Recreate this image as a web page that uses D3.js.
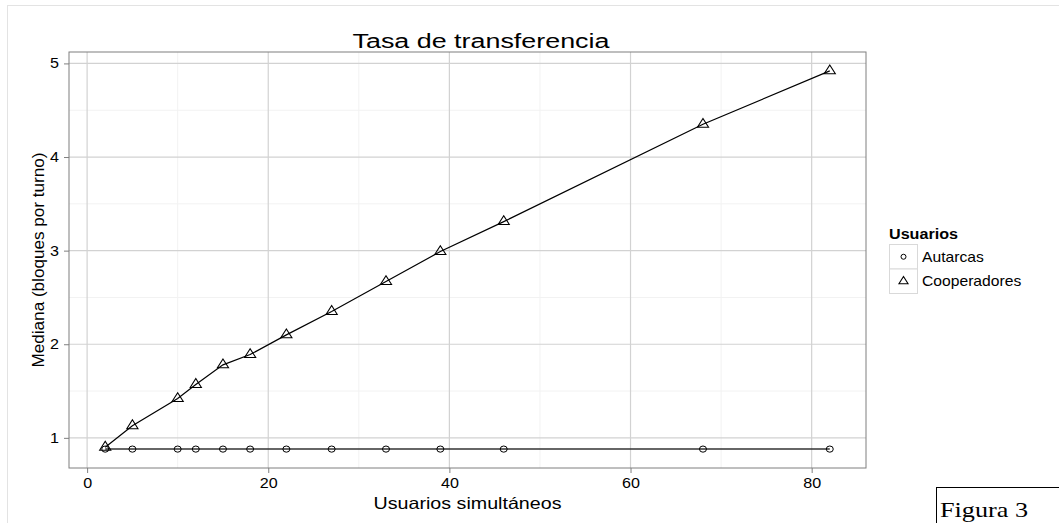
<!DOCTYPE html>
<html>
<head>
<meta charset="utf-8">
<script src="https://cdn.jsdelivr.net/npm/d3@7"></script>
<style>
  html, body { margin: 0; padding: 0; background: #fff; }
  svg { display: block; }
</style>
</head>
<body>
<svg id="chart" width="1059" height="523"></svg>
<script>
// ---- data ----
const users = [2, 5, 10, 12, 15, 18, 22, 27, 33, 39, 46, 68, 82];
const autarcas = [0.88, 0.88, 0.88, 0.88, 0.88, 0.88, 0.88, 0.88, 0.88, 0.88, 0.88, 0.88, 0.88];
const cooperadores = [0.90, 1.13, 1.42, 1.57, 1.78, 1.89, 2.10, 2.35, 2.67, 2.99, 3.31, 4.35, 4.92];
const xTicks = [0, 20, 40, 60, 80];
const xMinor = [10, 30, 50, 70];
const yTicks = [1, 2, 3, 4, 5];
const yMinor = [1.5, 2.5, 3.5, 4.5];
const seriesNames = ["Autarcas", "Cooperadores"];
const titleText = "Tasa de transferencia";
const xTitle = "Usuarios simultáneos";
const yTitle = "Mediana (bloques por turno)";
const legendTitle = "Usuarios";
const captionText = "Figura 3";

const svg = d3.select("#chart");
const font = "Arial, 'Liberation Sans', Helvetica, sans-serif";
const stretch = 1.15; // horizontal stretch of glyphs seen in the reference

function widen(sel, factor) {
  sel.each(function() {
    const w = this.getComputedTextLength();
    d3.select(this).attr("textLength", w * factor).attr("lengthAdjust", "spacingAndGlyphs");
  });
}

// outer plot border
svg.append("rect").attr("x", 7.5).attr("y", 5.5).attr("width", 1100).attr("height", 600)
  .attr("fill", "none").attr("stroke", "#e3e3e3");

const P = { left: 69, right: 866, top: 52, bottom: 468 };
const allY = autarcas.concat(cooperadores);
const xMin = d3.min(users), xMax = d3.max(users);
const yMin = d3.min(allY), yMax = d3.max(allY);
const xPad = (xMax - xMin) * 0.05, yPad = (yMax - yMin) * 0.05;
const x = d3.scaleLinear().domain([xMin - xPad, xMax + xPad]).range([P.left, P.right]);
const y = d3.scaleLinear().domain([yMin - yPad, yMax + yPad]).range([P.bottom, P.top]);

const g = svg.append("g");
// minor grid
g.selectAll(".xm").data(xMinor).enter().append("line")
  .attr("x1", d => x(d)).attr("x2", d => x(d)).attr("y1", P.top).attr("y2", P.bottom)
  .attr("stroke", "#f2f2f2").attr("stroke-width", 1);
g.selectAll(".ym").data(yMinor).enter().append("line")
  .attr("y1", d => y(d)).attr("y2", d => y(d)).attr("x1", P.left).attr("x2", P.right)
  .attr("stroke", "#f2f2f2").attr("stroke-width", 1);
// major grid
g.selectAll(".xg").data(xTicks).enter().append("line")
  .attr("x1", d => x(d)).attr("x2", d => x(d)).attr("y1", P.top).attr("y2", P.bottom)
  .attr("stroke", "#d2d2d2").attr("stroke-width", 1.2);
g.selectAll(".yg").data(yTicks).enter().append("line")
  .attr("y1", d => y(d)).attr("y2", d => y(d)).attr("x1", P.left).attr("x2", P.right)
  .attr("stroke", "#d2d2d2").attr("stroke-width", 1.2);

// axes
const xAxis = d3.axisBottom(x).tickValues(xTicks).tickFormat(d3.format("d")).tickSize(5).tickPadding(5);
const yAxis = d3.axisLeft(y).tickValues(yTicks).tickFormat(d3.format("d")).tickSize(5).tickPadding(5);
const gx = svg.append("g").attr("transform", `translate(0,${P.bottom})`).call(xAxis);
const gy = svg.append("g").attr("transform", `translate(${P.left},0)`).call(yAxis);
[gx, gy].forEach(a => {
  a.select(".domain").remove();
  a.selectAll(".tick line").attr("stroke", "#7f7f7f");
  a.selectAll(".tick text").attr("fill", "#000").style("font-family", font).style("font-size", "14px");
  widen(a.selectAll(".tick text"), stretch);
});

// panel border
svg.append("rect").attr("x", P.left).attr("y", P.top)
  .attr("width", P.right - P.left).attr("height", P.bottom - P.top)
  .attr("fill", "none").attr("stroke", "#7f7f7f").attr("stroke-width", 1);

// lines
const line = d3.line().x(d => x(d[0])).y(d => y(d[1]));
const aData = users.map((u, i) => [u, autarcas[i]]);
const cData = users.map((u, i) => [u, cooperadores[i]]);
svg.append("path").datum(aData).attr("d", line).attr("fill", "none")
  .attr("stroke", "#333").attr("stroke-width", 1.5);
svg.append("path").datum(cData).attr("d", line).attr("fill", "none")
  .attr("stroke", "#000").attr("stroke-width", 1.2);

// points
const triSym = d3.symbol().type(d3.symbolTriangle).size(45);
svg.selectAll(".pa").data(aData).enter().append("ellipse")
  .attr("cx", d => x(d[0])).attr("cy", d => y(d[1])).attr("rx", 3.5).attr("ry", 3.1)
  .attr("fill", "none").attr("stroke", "#000").attr("stroke-width", 1);
svg.selectAll(".pc").data(cData).enter().append("path")
  .attr("d", triSym)
  .attr("transform", d => `translate(${x(d[0])},${y(d[1])}) scale(1.1,1)`)
  .attr("fill", "none").attr("stroke", "#000").attr("stroke-width", 1);

// titles
svg.append("text").attr("x", 481).attr("y", 48).attr("text-anchor", "middle")
  .attr("textLength", 257).attr("lengthAdjust", "spacingAndGlyphs")
  .style("font-family", font).style("font-size", "20px").text(titleText);
svg.append("text").attr("x", (P.left + P.right) / 2).attr("y", 509).attr("text-anchor", "middle")
  .attr("textLength", 188).attr("lengthAdjust", "spacingAndGlyphs")
  .style("font-family", font).style("font-size", "16.5px").text(xTitle);
svg.append("text").attr("transform", `translate(44,${(P.top + P.bottom) / 2}) rotate(-90)`)
  .attr("text-anchor", "middle")
  .attr("textLength", 215).attr("lengthAdjust", "spacingAndGlyphs")
  .style("font-family", font).style("font-size", "16.5px").text(yTitle);

// legend
const L = { x: 889, y: 244, w: 28, h: 24.5 };
svg.append("text").attr("x", L.x).attr("y", 239)
  .attr("textLength", 69).attr("lengthAdjust", "spacingAndGlyphs")
  .style("font-family", font).style("font-size", "14px").style("font-weight", "bold").text(legendTitle);
const lg = svg.selectAll(".leg").data(seriesNames).enter().append("g")
  .attr("transform", (d, i) => `translate(${L.x},${L.y + i * L.h})`);
lg.append("rect").attr("x", 0.5).attr("y", 0.5).attr("width", L.w).attr("height", L.h)
  .attr("fill", "#fff").attr("stroke", "#d9d9d9");
lg.each(function(d, i) {
  const s = d3.select(this);
  if (i === 0) {
    s.append("circle").attr("cx", L.w / 2 + 0.5).attr("cy", L.h / 2 + 0.5).attr("r", 2.5)
      .attr("fill", "none").attr("stroke", "#000");
  } else {
    s.append("path").attr("d", d3.symbol().type(d3.symbolTriangle).size(30))
      .attr("transform", `translate(${L.w / 2 + 0.5},${L.h / 2 + 0.5}) scale(1.1,1)`)
      .attr("fill", "none").attr("stroke", "#000");
  }
});
const legText = lg.append("text").attr("x", 33).attr("y", L.h / 2 + 5.5)
  .style("font-family", font).style("font-size", "14.5px").text(d => d);
widen(legText, 1.08);

// caption box
svg.append("rect").attr("x", 936.5).attr("y", 487.5).attr("width", 200).attr("height", 100)
  .attr("fill", "#fff").attr("stroke", "#000").attr("stroke-width", 1);
svg.append("text").attr("x", 940).attr("y", 517)
  .attr("textLength", 88).attr("lengthAdjust", "spacingAndGlyphs")
  .style("font-family", "'Liberation Serif', 'Times New Roman', serif").style("font-size", "22px")
  .text(captionText);
</script>
</body>
</html>
